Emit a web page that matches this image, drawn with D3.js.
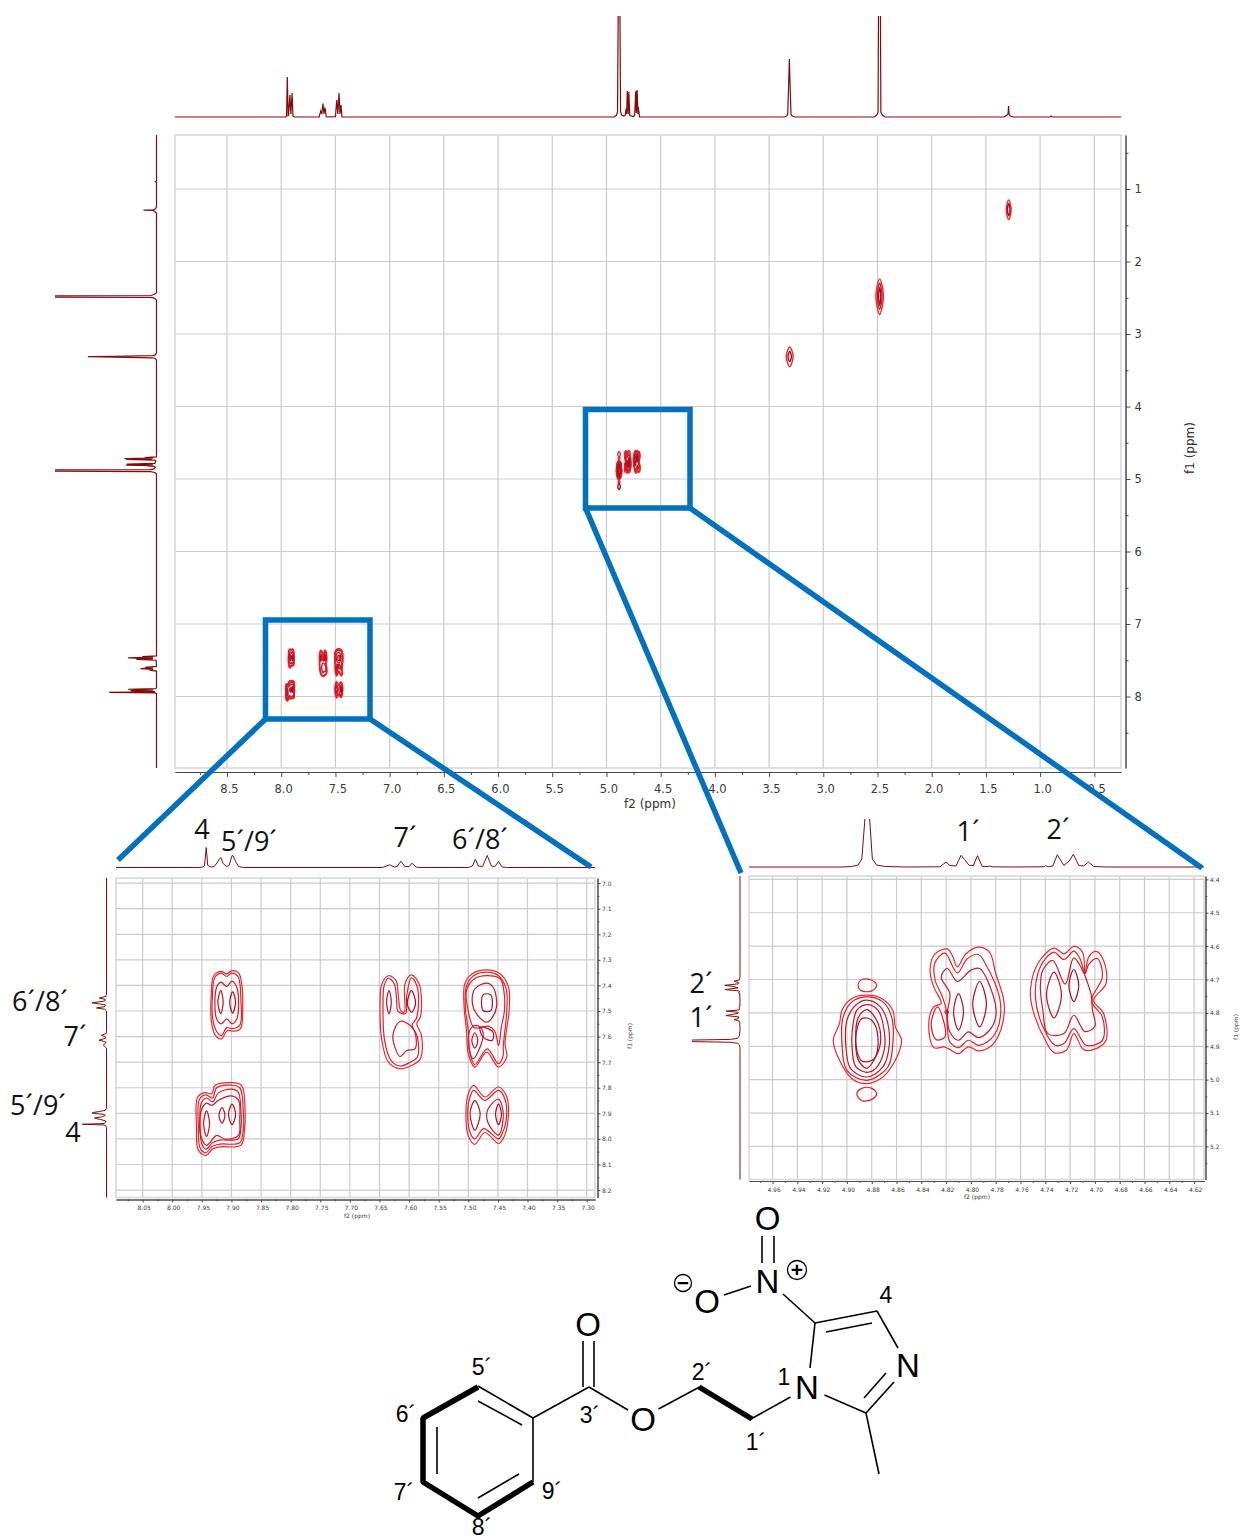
<!DOCTYPE html>
<meta charset='utf-8'>
<title>HSQC style 2D NMR with expansions</title>
<style>
html, body { margin: 0; padding: 0; background: #fff; }
svg { display: block; }
</style>
<script src='https://d3js.org/d3.v7.min.js'></script>
<body>
<svg id='chart' width='1240' height='1540'></svg>
<script>
// Tick values
var mainF2Ticks = [8.5, 8.0, 7.5, 7.0, 6.5, 6.0, 5.5, 5.0, 4.5, 4.0, 3.5, 3.0, 2.5, 2.0, 1.5, 1.0, 0.5];
var mainF2Minor = [8.75, 8.25, 7.75, 7.25, 6.75, 6.25, 5.75, 5.25, 4.75, 4.25, 3.75, 3.25, 2.75, 2.25, 1.75, 1.25, 0.75];
var mainF1Ticks = [1, 2, 3, 4, 5, 6, 7, 8];
var mainF1Minor = [0.5, 1.5, 2.5, 3.5, 4.5, 5.5, 6.5, 7.5, 8.5];
var aromF2Ticks = [8.05, 8.00, 7.95, 7.90, 7.85, 7.80, 7.75, 7.70, 7.65, 7.60, 7.55, 7.50, 7.45, 7.40, 7.35, 7.30];
var aromF2Minor = [8.075, 8.025, 7.975, 7.925, 7.875, 7.825, 7.775, 7.725, 7.675, 7.625, 7.575, 7.525, 7.475, 7.425, 7.375, 7.325];
var aromF1Ticks = [7.0, 7.1, 7.2, 7.3, 7.4, 7.5, 7.6, 7.7, 7.8, 7.9, 8.0, 8.1, 8.2];
var aromF1Minor = [7.05, 7.15, 7.25, 7.35, 7.45, 7.55, 7.65, 7.75, 7.85, 7.95, 8.05, 8.15];
var alkF2Ticks = [4.96, 4.94, 4.92, 4.90, 4.88, 4.86, 4.84, 4.82, 4.80, 4.78, 4.76, 4.74, 4.72, 4.70, 4.68, 4.66, 4.64, 4.62];
var alkF2Minor = [4.97, 4.95, 4.93, 4.91, 4.89, 4.87, 4.85, 4.83, 4.81, 4.79, 4.77, 4.75, 4.73, 4.71, 4.69, 4.67, 4.65, 4.63];
var alkF1Ticks = [4.4, 4.5, 4.6, 4.7, 4.8, 4.9, 5.0, 5.1, 5.2];
var alkF1Minor = [4.45, 4.55, 4.65, 4.75, 4.85, 4.95, 5.05, 5.15, 5.25];

// 1D traces, [ppm, intensity]
var mainTrace = [[9.0, 0], [7.96, 0], [7.951, 1], [7.944, 40], [7.936, 1.5], [7.932, 2], [7.92, 22], [7.911, 3], [7.9, 24], [7.892, 1], [7.88, 0],
  [7.65, 0], [7.636, 6], [7.626, 3], [7.615, 13.5], [7.606, 3], [7.596, 9.5], [7.585, 0],
  [7.5, 0.3], [7.488, 17], [7.478, 3], [7.467, 24], [7.458, 3], [7.449, 12], [7.44, 0],
  [4.93, 0], [4.91, 1.5], [4.898, 5], [4.891, 120], [4.884, 200], [4.877, 120], [4.87, 5], [4.86, 2], [4.84, 1],
  [4.826, 2], [4.82, 8], [4.814, 3], [4.808, 26], [4.805, 18], [4.8, 3], [4.794, 25], [4.785, 1.5], [4.75, 0.5], [4.74, 1.5],
  [4.73, 26], [4.725, 4], [4.721, 14], [4.717, 27], [4.71, 3], [4.706, 10], [4.695, 0],
  [3.36, 0], [3.338, 1], [3.328, 3], [3.319, 35], [3.313, 58], [3.307, 35], [3.298, 3], [3.288, 1], [3.26, 0],
  [2.53, 0], [2.505, 2], [2.495, 5], [2.489, 150], [2.482, 220], [2.475, 150], [2.469, 5], [2.455, 2], [2.43, 0],
  [1.33, 0], [1.305, 2], [1.296, 3], [1.291, 11], [1.286, 3], [1.275, 1], [1.25, 0],
  [0.91, 0], [0.9, 1], [0.89, 0], [0.2, 0]];

var aromTrace = [[8.25, 0], [7.955, 0], [7.949, 0.5], [7.9455, 2], [7.9426, 20], [7.94, 2], [7.934, 0.5], [7.929, 1], [7.924, 5], [7.921, 8], [7.918, 10],
  [7.914, 4], [7.908, 1], [7.904, 2], [7.899, 12], [7.897, 11.5], [7.893, 6], [7.888, 1], [7.88, 0],
  [7.645, 0], [7.633, 2.7], [7.625, 0.5], [7.62, 1], [7.614, 6.3], [7.607, 1], [7.6, 1], [7.595, 4.3], [7.588, 0.3], [7.58, 0],
  [7.5, 0], [7.493, 1.5], [7.488, 8.3], [7.483, 1.5], [7.476, 1], [7.468, 12], [7.461, 1.5], [7.455, 1], [7.449, 6], [7.443, 0.5], [7.435, 0], [6.95, 0]];

var alkTrace = [[5.32, 0], [4.904, 0], [4.896, 0.5], [4.891, 2], [4.888, 8], [4.8855, 48], [4.8836, 200], [4.8817, 48], [4.8795, 8], [4.876, 2], [4.869, 0.5], [4.852, 0],
  [4.825, 0.2], [4.82, 5], [4.817, 1.5], [4.812, 1], [4.808, 11.7], [4.805, 7.3], [4.8015, 1.7], [4.798, 1.5], [4.7947, 11.3], [4.791, 0.7], [4.786, 0.4], [4.7846, 1], [4.7826, 0.2],
  [4.768, 0], [4.741, 0.2], [4.74, 1.3], [4.7376, 0.3], [4.734, 1], [4.7303, 12.3], [4.725, 1.5], [4.7207, 6], [4.7174, 12.7], [4.713, 1.5], [4.709, 1], [4.7052, 5], [4.701, 0.5], [4.691, 0], [4.37, 0]];

// Contours, [f2, f1] in ppm, outer level first
var crossAromA = [
  [[7.917, 7.345], [7.908, 7.355], [7.9, 7.343], [7.888, 7.351], [7.882, 7.407], [7.881, 7.466], [7.885, 7.57], [7.897, 7.579], [7.907, 7.576], [7.917, 7.609], [7.928, 7.592], [7.934, 7.537], [7.934, 7.433], [7.93, 7.362]],
  [[7.917, 7.352], [7.908, 7.365], [7.9, 7.352], [7.889, 7.365], [7.884, 7.459], [7.886, 7.556], [7.899, 7.569], [7.908, 7.565], [7.917, 7.596], [7.926, 7.576], [7.932, 7.524], [7.932, 7.433], [7.928, 7.368]],
  [[7.918, 7.387], [7.908, 7.404], [7.899, 7.383], [7.891, 7.407], [7.888, 7.466], [7.891, 7.531], [7.899, 7.55], [7.908, 7.531], [7.917, 7.55], [7.925, 7.531], [7.928, 7.466], [7.925, 7.407]],
  [[7.918, 7.42], [7.914, 7.465], [7.918, 7.51], [7.923, 7.465]],
  [[7.898, 7.425], [7.893, 7.466], [7.898, 7.508], [7.903, 7.466]]
];
var crossAromB = [
  [[7.957, 7.836], [7.945, 7.819], [7.933, 7.823], [7.928, 7.791], [7.9, 7.78], [7.883, 7.791], [7.877, 7.888], [7.878, 7.966], [7.884, 8.025], [7.919, 8.031], [7.931, 8.038], [7.943, 8.064], [7.956, 8.044], [7.959, 7.953]],
  [[7.954, 7.845], [7.943, 7.828], [7.932, 7.84], [7.925, 7.8], [7.9, 7.79], [7.886, 7.8], [7.88, 7.89], [7.88, 7.96], [7.886, 8.015], [7.92, 8.02], [7.933, 8.03], [7.943, 8.054], [7.953, 8.035], [7.956, 7.95]],
  [[7.951, 7.86], [7.942, 7.84], [7.932, 7.855], [7.922, 7.82], [7.9, 7.805], [7.889, 7.815], [7.884, 7.89], [7.884, 7.96], [7.889, 8.0], [7.92, 8.005], [7.932, 8.015], [7.943, 8.04], [7.95, 8.02], [7.953, 7.95]],
  [[7.95, 7.882], [7.942, 7.86], [7.933, 7.869], [7.922, 7.849], [7.9, 7.832], [7.888, 7.849], [7.886, 7.927], [7.888, 7.986], [7.911, 8.001], [7.925, 7.986], [7.942, 8.025], [7.952, 7.986], [7.953, 7.914]],
  [[7.942, 7.89], [7.937, 7.94], [7.942, 7.99], [7.947, 7.94]],
  [[7.916, 7.878], [7.911, 7.908], [7.916, 7.938], [7.921, 7.908]],
  [[7.899, 7.864], [7.893, 7.904], [7.899, 7.944], [7.905, 7.904]]
];
var crossAromC = [
  [[7.635, 7.362], [7.622, 7.381], [7.618, 7.446], [7.614, 7.498], [7.608, 7.504], [7.607, 7.394], [7.596, 7.359], [7.583, 7.394], [7.579, 7.459], [7.581, 7.524], [7.587, 7.55], [7.579, 7.596], [7.581, 7.687], [7.596, 7.713], [7.615, 7.726], [7.635, 7.7], [7.646, 7.615], [7.649, 7.472], [7.646, 7.394]],
  [[7.635, 7.372], [7.625, 7.394], [7.621, 7.459], [7.619, 7.5], [7.606, 7.51], [7.604, 7.44], [7.596, 7.37], [7.587, 7.4], [7.584, 7.46], [7.588, 7.53], [7.595, 7.555], [7.586, 7.6], [7.586, 7.68], [7.598, 7.7], [7.615, 7.715], [7.63, 7.695], [7.641, 7.62], [7.644, 7.47], [7.642, 7.4]],
  [[7.615, 7.54], [7.598, 7.557], [7.59, 7.583], [7.59, 7.648], [7.604, 7.654], [7.615, 7.678], [7.624, 7.641], [7.627, 7.589]],
  [[7.634, 7.42], [7.63, 7.466], [7.634, 7.51], [7.638, 7.466]],
  [[7.596, 7.42], [7.589, 7.47], [7.596, 7.505], [7.603, 7.47]]
];
var crossAromD = [
  [[7.469, 7.339], [7.446, 7.355], [7.432, 7.407], [7.431, 7.498], [7.438, 7.628], [7.435, 7.68], [7.449, 7.719], [7.469, 7.661], [7.489, 7.719], [7.5, 7.667], [7.503, 7.576], [7.507, 7.485], [7.506, 7.394], [7.494, 7.355]],
  [[7.469, 7.348], [7.449, 7.362], [7.436, 7.414], [7.435, 7.498], [7.441, 7.641], [7.441, 7.673], [7.449, 7.706], [7.468, 7.648], [7.489, 7.709], [7.497, 7.667], [7.5, 7.576], [7.505, 7.485], [7.503, 7.401], [7.491, 7.362]],
  [[7.469, 7.362], [7.446, 7.375], [7.44, 7.42], [7.439, 7.5], [7.444, 7.56], [7.449, 7.635], [7.455, 7.58], [7.465, 7.56], [7.49, 7.565], [7.5, 7.5], [7.503, 7.42], [7.49, 7.375]],
  [[7.484, 7.557], [7.475, 7.583], [7.478, 7.628], [7.492, 7.687], [7.5, 7.615], [7.494, 7.563]],
  [[7.469, 7.391], [7.458, 7.407], [7.452, 7.479], [7.459, 7.524], [7.469, 7.544], [7.486, 7.511], [7.493, 7.472], [7.489, 7.414]],
  [[7.489, 7.585], [7.484, 7.615], [7.489, 7.645], [7.494, 7.615]],
  [[7.48, 7.563], [7.458, 7.583], [7.46, 7.615], [7.475, 7.602]],
  [[7.475, 7.437], [7.462, 7.437], [7.462, 7.498], [7.475, 7.498]]
];
var crossAromE = [
  [[7.491, 7.791], [7.472, 7.836], [7.449, 7.797], [7.435, 7.836], [7.433, 7.927], [7.441, 7.999], [7.449, 8.018], [7.472, 7.975], [7.489, 8.021], [7.5, 7.988], [7.504, 7.901], [7.5, 7.823]],
  [[7.491, 7.81], [7.472, 7.849], [7.449, 7.81], [7.438, 7.845], [7.436, 7.927], [7.444, 7.985], [7.449, 8.0], [7.474, 7.96], [7.489, 8.0], [7.497, 7.975], [7.501, 7.9], [7.497, 7.835]],
  [[7.449, 7.845], [7.441, 7.9], [7.449, 7.985], [7.467, 7.935], [7.467, 7.885]],
  [[7.489, 7.85], [7.48, 7.9], [7.489, 7.966], [7.497, 7.9]],
  [[7.449, 7.864], [7.444, 7.904], [7.449, 7.944], [7.454, 7.904]]
];
var crossDiagF = [
  [[4.884, 4.747], [4.872, 4.757], [4.863, 4.792], [4.861, 4.842], [4.856, 4.882], [4.861, 4.942], [4.871, 4.992], [4.884, 5.012], [4.896, 4.997], [4.906, 4.942], [4.911, 4.882], [4.906, 4.832], [4.904, 4.792], [4.896, 4.757]],
  [[4.891, 4.717], [4.888, 4.7], [4.88, 4.702], [4.876, 4.717], [4.88, 4.734], [4.888, 4.734]],
  [[4.892, 5.042], [4.888, 5.026], [4.88, 5.026], [4.876, 5.042], [4.88, 5.059], [4.888, 5.063]],
  [[4.884, 4.752], [4.871, 4.767], [4.864, 4.812], [4.863, 4.892], [4.867, 4.962], [4.884, 5.002], [4.9, 4.972], [4.904, 4.892], [4.903, 4.812], [4.896, 4.767]],
  [[4.884, 4.762], [4.873, 4.782], [4.867, 4.832], [4.866, 4.902], [4.871, 4.962], [4.884, 4.992], [4.897, 4.967], [4.901, 4.892], [4.9, 4.822], [4.893, 4.777]],
  [[4.884, 4.775], [4.875, 4.792], [4.87, 4.852], [4.87, 4.912], [4.877, 4.967], [4.884, 4.978], [4.893, 4.96], [4.896, 4.892], [4.895, 4.832], [4.892, 4.792]],
  [[4.884, 4.79], [4.875, 4.83], [4.873, 4.89], [4.878, 4.94], [4.884, 4.966], [4.891, 4.94], [4.893, 4.88], [4.891, 4.815]],
  [[4.888, 4.817], [4.88, 4.822], [4.875, 4.872], [4.878, 4.937], [4.888, 4.944], [4.893, 4.882]]
];
var crossCH2G = [
  [[4.819, 4.609], [4.815, 4.628], [4.811, 4.662], [4.804, 4.623], [4.794, 4.603], [4.785, 4.618], [4.78, 4.682], [4.774, 4.752], [4.773, 4.792], [4.776, 4.852], [4.783, 4.897], [4.794, 4.914], [4.802, 4.902], [4.81, 4.922], [4.818, 4.907], [4.822, 4.902], [4.83, 4.904], [4.834, 4.832], [4.83, 4.782], [4.824, 4.772], [4.83, 4.722], [4.833, 4.672], [4.829, 4.623]],
  [[4.821, 4.621], [4.811, 4.68], [4.803, 4.638], [4.794, 4.625], [4.787, 4.662], [4.777, 4.752], [4.776, 4.802], [4.779, 4.852], [4.785, 4.882], [4.794, 4.897], [4.802, 4.882], [4.81, 4.904], [4.817, 4.887], [4.819, 4.84], [4.82, 4.79], [4.823, 4.752], [4.829, 4.7], [4.829, 4.65]],
  [[4.827, 4.782], [4.823, 4.812], [4.821, 4.872], [4.828, 4.88], [4.832, 4.832]],
  [[4.819, 4.667], [4.811, 4.706], [4.8, 4.672], [4.793, 4.667], [4.781, 4.762], [4.78, 4.812], [4.785, 4.852], [4.794, 4.874], [4.802, 4.857], [4.81, 4.882], [4.817, 4.857], [4.819, 4.802], [4.817, 4.742], [4.824, 4.692]],
  [[4.8195, 4.792], [4.818, 4.797], [4.8195, 4.803], [4.821, 4.797]],
  [[4.81, 4.742], [4.806, 4.797], [4.81, 4.852], [4.814, 4.797]],
  [[4.793, 4.706], [4.7875, 4.774], [4.793, 4.842], [4.7985, 4.774]]
];
var crossCH2H = [
  [[4.733, 4.606], [4.725, 4.623], [4.717, 4.601], [4.71, 4.618], [4.708, 4.682], [4.705, 4.633], [4.699, 4.616], [4.693, 4.643], [4.691, 4.712], [4.701, 4.762], [4.693, 4.802], [4.691, 4.882], [4.699, 4.907], [4.709, 4.91], [4.717, 4.862], [4.723, 4.912], [4.733, 4.919], [4.74, 4.882], [4.75, 4.792], [4.752, 4.732], [4.746, 4.652]],
  [[4.733, 4.618], [4.725, 4.64], [4.717, 4.615], [4.712, 4.638], [4.708, 4.682], [4.705, 4.655], [4.698, 4.637], [4.694, 4.692], [4.702, 4.752], [4.702, 4.772], [4.694, 4.812], [4.694, 4.882], [4.707, 4.897], [4.717, 4.847], [4.725, 4.892], [4.732, 4.897], [4.743, 4.832], [4.748, 4.752], [4.746, 4.682], [4.74, 4.638]],
  [[4.734, 4.643], [4.724, 4.714], [4.717, 4.635], [4.71, 4.672], [4.705, 4.72], [4.703, 4.745], [4.702, 4.79], [4.7, 4.84], [4.708, 4.856], [4.717, 4.807], [4.725, 4.862], [4.738, 4.862], [4.742, 4.792], [4.744, 4.722], [4.742, 4.672]],
  [[4.733, 4.678], [4.727, 4.746], [4.733, 4.815], [4.739, 4.746]],
  [[4.717, 4.67], [4.713, 4.718], [4.717, 4.766], [4.721, 4.718]]
];
// Only on the full spectrum
var peakEthane = [
  [[1.29, 1.15], [1.267, 1.29], [1.29, 1.42], [1.313, 1.29]],
  [[1.29, 1.2], [1.278, 1.29], [1.29, 1.37], [1.302, 1.29]]
];
var peakDmso = [
  [[2.48, 2.24], [2.445, 2.48], [2.48, 2.73], [2.515, 2.48]],
  [[2.48, 2.3], [2.458, 2.48], [2.48, 2.66], [2.502, 2.48]],
  [[2.48, 2.36], [2.47, 2.48], [2.48, 2.6], [2.49, 2.48]]
];
var peakWater = [
  [[3.31, 3.18], [3.278, 3.31], [3.31, 3.45], [3.342, 3.31]],
  [[3.31, 3.24], [3.294, 3.31], [3.31, 3.38], [3.326, 3.31]]
];
var peakDhoWings = [
  [[4.884, 4.62], [4.872, 4.66], [4.884, 4.7], [4.896, 4.66]],
  [[4.884, 5.06], [4.872, 5.11], [4.884, 5.15], [4.896, 5.11]]
];

var aromContours = [crossAromA, crossAromB, crossAromC, crossAromD, crossAromE];
var alkContours = [crossDiagF, crossCH2G, crossCH2H];
var mainContours = aromContours.concat(alkContours).concat([peakEthane, peakDmso, peakWater, peakDhoWings]);

var svg = d3.select('#chart');
var tickFont = "'DejaVu Sans', sans-serif";
var traceColor = '#850a0a';
var blue = '#0070c0';

// Draws frame, grid, axes, contours and both projections of one panel
function drawPanel(p) {
  var x = d3.scaleLinear().domain(p.xDomain).range([p.left, p.right]);
  var y = d3.scaleLinear().domain(p.yDomain).range([p.top, p.bottom]);
  var g = svg.append('g');

  g.append('g').selectAll('line').data(p.xTicks).join('line')
    .attr('x1', d => x(d)).attr('x2', d => x(d))
    .attr('y1', p.top).attr('y2', p.bottom)
    .attr('stroke', '#cbcbcb').attr('stroke-width', 1.2);
  g.append('g').selectAll('line').data(p.yTicks).join('line')
    .attr('x1', p.left).attr('x2', p.right)
    .attr('y1', d => y(d)).attr('y2', d => y(d))
    .attr('stroke', '#cbcbcb').attr('stroke-width', 1.2);
  g.append('rect')
    .attr('x', p.left).attr('y', p.top)
    .attr('width', p.right - p.left).attr('height', p.bottom - p.top)
    .attr('fill', 'none').attr('stroke', '#d6d6d6').attr('stroke-width', 1.5);

  // Axes sit just outside the frame
  var bottom = g.append('g').attr('transform', 'translate(0,' + p.axisY + ')');
  bottom.call(d3.axisBottom(x).tickValues(p.xTicks).tickFormat(d3.format(p.xFormat))
    .tickSize(p.tick).tickPadding(p.xPad).tickSizeOuter(0));
  bottom.append('g').call(d3.axisBottom(x).tickValues(p.xMinor).tickFormat('').tickSize(p.tick * 0.6).tickSizeOuter(0));

  var right = g.append('g').attr('transform', 'translate(' + p.axisX + ',0)');
  right.call(d3.axisRight(y).tickValues(p.yTicks).tickFormat(d3.format(p.yFormat))
    .tickSize(p.tick).tickPadding(p.yPad).tickSizeOuter(0));
  right.append('g').call(d3.axisRight(y).tickValues(p.yMinor).tickFormat('').tickSize(p.tick * 0.6).tickSizeOuter(0));

  g.selectAll('.tick text')
    .attr('font-family', tickFont).attr('font-size', p.font).attr('fill', '#3a3a3a');
  bottom.selectAll('.tick text').attr('dx', p.font / 6);
  g.selectAll('.domain, .tick line').attr('stroke', '#4a4a4a');

  g.append('text').text('f2 (ppm)')
    .attr('x', p.f2At[0]).attr('y', p.f2At[1])
    .attr('text-anchor', 'middle').attr('font-family', tickFont)
    .attr('font-size', p.titleFont).attr('fill', '#333');
  g.append('text').text('f1 (ppm)')
    .attr('transform', 'translate(' + p.f1At[0] + ',' + p.f1At[1] + ')rotate(-90)')
    .attr('text-anchor', 'middle').attr('font-family', tickFont)
    .attr('font-size', p.titleFont).attr('fill', '#333');

  // Contours, outer level lighter red, inner level darker
  var contourLine = d3.line().x(d => x(d[0])).y(d => y(d[1])).curve(d3.curveCatmullRomClosed.alpha(0.5));
  p.contours.forEach(function (group) {
    var shade = d3.scaleLinear().domain([0, Math.max(1, group.length - 1)]).range(['#f4262c', '#b00a1e']);
    g.append('g').selectAll('path').data(group).join('path')
      .attr('d', contourLine)
      .attr('fill', 'none')
      .attr('stroke', (d, i) => shade(i))
      .attr('stroke-width', p.contourWidth);
  });

  // Horizontal projection on top
  var hTop = d3.scaleLinear().domain([0, p.traceMax]).range([p.topBase, p.topClip]);
  var topLine = d3.line().x(d => x(d[0])).y(d => hTop(d[1]));
  var clipA = 'clip' + p.id + 'a';
  g.append('clipPath').attr('id', clipA).append('rect')
    .attr('x', p.left).attr('y', p.topClip)
    .attr('width', p.right - p.left).attr('height', p.topBase - p.topClip + 2);
  g.append('path').datum(p.trace)
    .attr('d', topLine).attr('clip-path', 'url(#' + clipA + ')')
    .attr('fill', 'none').attr('stroke', traceColor).attr('stroke-width', p.traceWidth);

  // Vertical projection on the left
  var hLeft = d3.scaleLinear().domain([0, p.traceMax * p.leftRatio]).range([p.leftBase, p.leftClip]);
  var leftLine = d3.line().x(d => hLeft(d[1])).y(d => y(d[0]));
  var clipB = 'clip' + p.id + 'b';
  g.append('clipPath').attr('id', clipB).append('rect')
    .attr('x', p.leftClip).attr('y', p.top)
    .attr('width', p.leftBase - p.leftClip + 2).attr('height', p.bottom - p.top);
  g.append('path').datum(p.trace)
    .attr('d', leftLine).attr('clip-path', 'url(#' + clipB + ')')
    .attr('fill', 'none').attr('stroke', traceColor).attr('stroke-width', p.traceWidth);
}

drawPanel({
  id: 'main', left: 175, right: 1121, top: 135, bottom: 768,
  xDomain: [8.98, 0.254], yDomain: [0.255, 8.986],
  xTicks: mainF2Ticks, xMinor: mainF2Minor, yTicks: mainF1Ticks, yMinor: mainF1Minor,
  xFormat: '.1f', yFormat: 'd', axisY: 772, axisX: 1125.5, tick: 5, xPad: 8, yPad: 4, font: 11.5,
  titleFont: 12, f2At: [650, 808], f1At: [1194, 448],
  contours: mainContours, contourWidth: 1.4,
  trace: mainTrace, traceMax: 101, leftRatio: 0.85, traceWidth: 1.2,
  topBase: 117, topClip: 16, leftBase: 156.5, leftClip: 55
});

drawPanel({
  id: 'arom', left: 116, right: 595, top: 878, bottom: 1197.5,
  xDomain: [8.095, 7.286], yDomain: [6.98, 8.229],
  xTicks: aromF2Ticks, xMinor: aromF2Minor, yTicks: aromF1Ticks, yMinor: aromF1Minor,
  xFormat: '.2f', yFormat: '.1f', axisY: 1199.5, axisX: 597.5, tick: 3, xPad: 3.5, yPad: 1.5, font: 6,
  titleFont: 6, f2At: [357, 1218], f1At: [632, 1036],
  contours: aromContours, contourWidth: 1.2,
  trace: aromTrace, traceMax: 25, leftRatio: 0.83, traceWidth: 1,
  topBase: 867.5, topClip: 842.5, leftBase: 106.5, leftClip: 81.5
});

drawPanel({
  id: 'alk', left: 749, right: 1204, top: 876, bottom: 1179.5,
  xDomain: [4.979, 4.612], yDomain: [4.39, 5.299],
  xTicks: alkF2Ticks, xMinor: alkF2Minor, yTicks: alkF1Ticks, yMinor: alkF1Minor,
  xFormat: '.2f', yFormat: '.1f', axisY: 1181, axisX: 1205.5, tick: 3, xPad: 3.5, yPad: 1.5, font: 6,
  titleFont: 6, f2At: [977, 1199], f1At: [1238, 1027],
  contours: alkContours, contourWidth: 1.2,
  trace: alkTrace, traceMax: 48, leftRatio: 0.83, traceWidth: 1,
  topBase: 867, topClip: 819, leftBase: 740, leftClip: 692
});

// Assignment labels next to the expansions
var peakLabels = [
  ['4', 202, 839], ['5´/9´', 249, 851], ['7´', 405, 847], ['6´/8´', 480, 849],
  ['1´', 968, 841], ['2´', 1058, 839],
  ['6´/8´', 40, 1011], ['7´', 75, 1046], ['5´/9´', 38, 1115], ['4', 73, 1142],
  ['2´', 701, 993], ['1´', 701, 1027]
];
svg.append('g').selectAll('text').data(peakLabels).join('text')
  .text(d => d[0])
  .attr('x', d => d[1]).attr('y', d => d[2])
  .attr('text-anchor', 'middle')
  .attr('font-family', "'Open Sans', sans-serif")
  .attr('font-size', 27).attr('fill', '#111');

// Molecule drawing, page coordinates
var thinBonds = [
  [533, 1418, 478, 1386], [533, 1418, 533, 1482], [533, 1482, 520, 1490],
  [478, 1401, 522, 1425], [437, 1427, 437, 1474], [478, 1498, 519, 1474],
  [533, 1418, 589, 1387], [583, 1341, 583, 1387], [594, 1341, 594, 1387],
  [589, 1387, 628, 1410], [658.5, 1409, 699.5, 1387], [751, 1419, 790.5, 1397],
  [810, 1368, 815, 1323], [815, 1323, 877, 1311], [826, 1332, 872, 1323],
  [877, 1311, 898, 1348], [894, 1382, 866, 1413], [864, 1398, 886, 1373],
  [866, 1413, 824.5, 1395], [866, 1413, 879, 1474],
  [815, 1323, 783, 1294], [762, 1236, 762, 1263], [774, 1236, 774, 1263], [724, 1295, 751, 1286]
];
var boldPaths = [
  [[533, 1482], [478, 1516], [423, 1482], [423, 1418], [478, 1387]],
  [[699, 1387], [752, 1419]]
];
var atomLabels = [
  ['O', 767.5, 1230, 33], ['N', 767.5, 1293, 33], ['O', 707, 1313, 33], ['O', 588, 1336, 33],
  ['O', 643, 1431, 33], ['N', 807, 1399, 33], ['N', 908, 1377, 33],
  ['4', 886, 1303, 23], ['1', 784, 1385, 23], ['5´', 482, 1375, 23], ['6´', 406, 1422, 23],
  ['7´', 404, 1500, 23], ['8´', 482, 1535, 23], ['9´', 552, 1499, 23], ['3´', 590, 1423, 23],
  ['2´', 702, 1380, 23], ['1´', 756, 1450, 23]
];
var chargeMarks = [['+', 797, 1270, 9.5], ['−', 683, 1283, 8.5]];

var mol = svg.append('g');
mol.selectAll('line').data(thinBonds).join('line')
  .attr('x1', d => d[0]).attr('y1', d => d[1]).attr('x2', d => d[2]).attr('y2', d => d[3])
  .attr('stroke', '#000').attr('stroke-width', 1.6);
mol.selectAll('path').data(boldPaths).join('path')
  .attr('d', d3.line())
  .attr('fill', 'none').attr('stroke', '#000').attr('stroke-width', 5.5)
  .attr('stroke-linejoin', 'bevel');
mol.selectAll('text.atom').data(atomLabels).join('text')
  .attr('class', 'atom').text(d => d[0])
  .attr('x', d => d[1]).attr('y', d => d[2])
  .attr('text-anchor', 'middle')
  .attr('font-family', "'Liberation Sans', Arial, sans-serif")
  .attr('font-size', d => d[3]).attr('fill', '#000');
mol.selectAll('circle').data(chargeMarks).join('circle')
  .attr('cx', d => d[1]).attr('cy', d => d[2]).attr('r', d => d[3])
  .attr('fill', 'none').attr('stroke', '#000').attr('stroke-width', 1.3);
mol.selectAll('text.charge').data(chargeMarks).join('text')
  .attr('class', 'charge').text(d => d[0])
  .attr('x', d => d[1]).attr('y', d => d[2] + 7)
  .attr('text-anchor', 'middle')
  .attr('font-family', "'Liberation Sans', Arial, sans-serif")
  .attr('font-size', 21).attr('font-weight', 700).attr('fill', '#000');

// Blue zoom boxes and leader lines go over everything else
var zoomBoxes = [[265.5, 620, 370, 719], [585.5, 409.5, 690, 508]];
var zoomLeaders = [
  [265.5, 719, 118, 860], [370, 719, 591, 867],
  [585.5, 508, 741, 873], [690, 508, 1202, 868]
];
var over = svg.append('g');
over.selectAll('rect').data(zoomBoxes).join('rect')
  .attr('x', d => d[0]).attr('y', d => d[1])
  .attr('width', d => d[2] - d[0]).attr('height', d => d[3] - d[1])
  .attr('fill', 'none').attr('stroke', blue).attr('stroke-width', 5.5);
over.selectAll('line').data(zoomLeaders).join('line')
  .attr('x1', d => d[0]).attr('y1', d => d[1]).attr('x2', d => d[2]).attr('y2', d => d[3])
  .attr('stroke', blue).attr('stroke-width', 5.5);
</script>
</body>
